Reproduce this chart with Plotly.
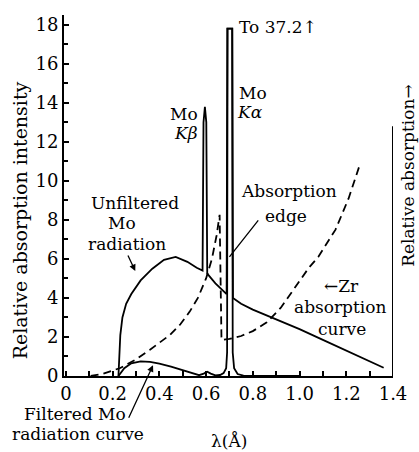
import plotly.graph_objects as go

# ---- data ----
# Unfiltered Mo radiation (solid), incl. K-beta and K-alpha lines
lam_unf = [0.225, 0.228, 0.233, 0.242, 0.258, 0.28, 0.32, 0.37, 0.42, 0.47, 0.52, 0.56,
           0.585, 0.589, 0.595, 0.601, 0.605, 0.64, 0.688, 0.691, 0.712, 0.715,
           0.75, 0.80, 0.90, 1.00, 1.10, 1.20, 1.30, 1.36]
int_unf = [0.0, 1.0, 2.1, 3.0, 3.7, 4.2, 4.9, 5.5, 5.95, 6.1, 5.85, 5.55,
           5.4, 13.0, 13.8, 13.0, 5.25, 4.75, 4.2, 17.8, 17.8, 4.0,
           3.7, 3.4, 2.9, 2.4, 1.85, 1.3, 0.75, 0.42]

# Filtered Mo radiation (solid, low)
lam_fil = [0.225, 0.25, 0.28, 0.32, 0.36, 0.40, 0.45, 0.50, 0.54, 0.57, 0.59, 0.605,
           0.62, 0.64, 0.66, 0.675, 0.686, 0.690, 0.692, 0.712, 0.714, 0.72, 0.735,
           0.76, 0.80, 1.00]
int_fil = [0.0, 0.4, 0.65, 0.75, 0.72, 0.64, 0.48, 0.3, 0.12, 0.04, 0.12, 0.22,
           0.12, 0.03, 0.05, 0.15, 0.4, 1.2, 17.8, 17.8, 1.2, 0.4, 0.1,
           0.02, 0.0, 0.0]

# Zr absorption curve (dashed)
lam_zr = [0.106, 0.16, 0.233, 0.30, 0.36, 0.40, 0.445, 0.49, 0.53, 0.565, 0.60, 0.625,
          0.645, 0.658, 0.662, 0.666, 0.70, 0.75, 0.80, 0.86, 0.92, 0.997, 1.04,
          1.08, 1.154, 1.21, 1.26]
abs_zr = [0.0, 0.12, 0.41, 0.85, 1.35, 1.7, 2.1, 2.65, 3.3, 4.0, 5.0, 6.0,
          7.2, 8.26, 5.0, 1.85, 1.9, 2.05, 2.3, 2.75, 3.5, 4.8, 5.55,
          6.1, 7.5, 9.1, 10.9]

y_ticks = [0, 2, 4, 6, 8, 10, 12, 14, 16, 18]
x_ticks = [0, 0.2, 0.4, 0.6, 0.8, 1.0, 1.2, 1.4]
x_ticktext = ["0", "0.2", "0.4", "0.6", "0.8", "1.0", "1.2", "1.4"]

FONT = "DejaVu Serif"
FS = 17
TFS = 18
LW = 1.8

fig = go.Figure()
fig.add_trace(go.Scatter(x=lam_unf, y=int_unf, mode="lines",
                         line=dict(color="black", width=LW), hoverinfo="skip"))
fig.add_trace(go.Scatter(x=lam_fil, y=int_fil, mode="lines",
                         line=dict(color="black", width=LW), hoverinfo="skip"))
fig.add_trace(go.Scatter(x=lam_zr, y=abs_zr, mode="lines",
                         line=dict(color="black", width=LW, dash="8px,5px"), hoverinfo="skip"))

# right "relative absorption" axis line
fig.add_shape(type="line", x0=1.4, x1=1.4, y0=0, y1=12.8, xref="x", yref="y",
              line=dict(color="black", width=2))

def txt(x, y, s, xanchor="center", size=FS, angle=0, ref="data"):
    xr, yr = ("x", "y") if ref == "data" else ("paper", "paper")
    fig.add_annotation(x=x, y=y, xref=xr, yref=yr, text=s, showarrow=False,
                       xanchor=xanchor, yanchor="middle", textangle=angle,
                       font=dict(family=FONT, size=size, color="black"))

txt(0.734, 17.9, "To 37.2↑", xanchor="left")
txt(0.734, 14.5, "Mo", xanchor="left")
txt(0.725, 13.55, "<i>Kα</i>", xanchor="left")
txt(0.575, 13.45, "Mo", xanchor="right")
txt(0.575, 12.45, "<i>Kβ</i>", xanchor="right")
txt(0.955, 9.5, "Absorption")
txt(0.94, 8.2, "edge")
txt(0.297, 8.85, "Unfiltered")
txt(0.24, 7.85, "Mo")
txt(0.263, 6.77, "radiation")
txt(1.18, 4.6, "←Zr")
txt(1.175, 3.54, "absorption")
txt(1.18, 2.4, "curve")
txt(0.033, -0.105, "Filtered Mo", ref="paper")
txt(0.042, -0.161, "radiation curve", ref="paper")
txt(0.50, -0.18, "λ(Å)", ref="paper")
txt(-0.135, 0.43, "Relative absorption intensity", size=19, angle=-90, ref="paper")
txt(1.045, 0.554, "Relative absorption→", size=17, angle=-90, ref="paper")

# arrows / pointers
fig.add_annotation(x=0.297, y=5.38, xref="x", yref="y", ax=-8, ay=-17, text="",
                   showarrow=True, arrowhead=2, arrowsize=1, arrowwidth=1.3, arrowcolor="black")
fig.add_annotation(x=0.373, y=0.55, xref="x", yref="y", ax=-25, ay=54, text="",
                   showarrow=True, arrowhead=2, arrowsize=1, arrowwidth=1.3, arrowcolor="black")
fig.add_annotation(x=0.70, y=6.1, xref="x", yref="y", ax=30, ay=-38, text="",
                   showarrow=True, arrowhead=0, arrowwidth=1.3, arrowcolor="black")

fig.update_layout(
    width=419, height=452,
    margin=dict(l=64, r=24, t=15, b=76),
    paper_bgcolor="white", plot_bgcolor="white",
    showlegend=False,
    font=dict(family=FONT, size=FS, color="black"),
    xaxis=dict(range=[-0.008, 1.4], tickvals=x_ticks, ticktext=x_ticktext,
               ticks="inside", ticklen=5, tickwidth=1.5, tickcolor="black",
               minor=dict(ticks="inside", ticklen=5, dtick=0.1, tick0=0, tickcolor="black", tickwidth=1.5),
               showline=True, linecolor="black", linewidth=2, showgrid=False, zeroline=False,
               tickfont=dict(family=FONT, size=TFS, color="black"), fixedrange=True),
    yaxis=dict(range=[0, 18.5], tickvals=y_ticks,
               ticks="inside", ticklen=5, tickwidth=1.5, tickcolor="black",
               minor=dict(ticks="inside", ticklen=4, dtick=1, tick0=0, tickcolor="black", tickwidth=1.5),
               showline=True, linecolor="black", linewidth=2, showgrid=False, zeroline=False,
               tickfont=dict(family=FONT, size=TFS, color="black"), fixedrange=True),
)

fig.write_html("out.html")
